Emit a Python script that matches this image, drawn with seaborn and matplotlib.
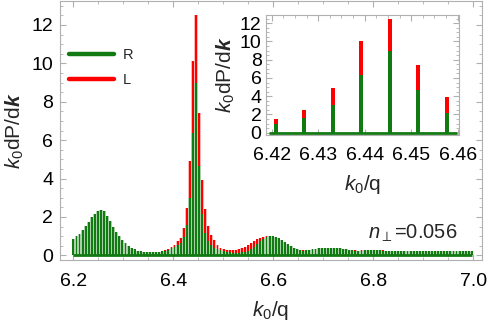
import numpy as np
import matplotlib
matplotlib.use('Agg')
import matplotlib.pyplot as plt
from matplotlib.lines import Line2D
from matplotlib.ticker import MultipleLocator, FormatStrFormatter
import seaborn as sns

# harmonic positions k0/q (evenly spaced grid) and spectra
k_start, k_step, n_bars = 6.2002, 0.00613, 131
k = np.round(k_start + k_step * np.arange(n_bars), 5)

R = [0.85, 0.99, 1.13, 1.30, 1.51, 1.73, 1.98, 2.17, 2.31, 2.38,
     2.30, 2.06, 1.80, 1.48, 1.20, 0.99, 0.78, 0.63, 0.49, 0.38,
     0.31, 0.25, 0.21, 0.19, 0.17, 0.16, 0.16, 0.17, 0.19, 0.22,
     0.25, 0.30, 0.36, 0.45, 0.55, 0.65, 0.95, 1.60, 3.00, 6.35,
     9.00, 4.65, 2.15, 1.15, 0.75, 0.52, 0.40, 0.32, 0.26, 0.22,
     0.19, 0.17, 0.15, 0.14, 0.15, 0.16, 0.20, 0.24, 0.33, 0.45,
     0.59, 0.76, 0.87, 0.96, 1.00, 1.00, 0.97, 0.90, 0.80, 0.70,
     0.59, 0.49, 0.39, 0.32, 0.27, 0.25, 0.26, 0.28, 0.31, 0.34,
     0.36, 0.38, 0.40, 0.40, 0.40, 0.39, 0.38, 0.36, 0.33, 0.31,
     0.28, 0.26, 0.25, 0.24, 0.25, 0.26, 0.27, 0.27, 0.27, 0.26,
     0.26, 0.25, 0.25, 0.24, 0.24, 0.23, 0.23, 0.23, 0.23, 0.23,
     0.24, 0.24, 0.24, 0.24, 0.23, 0.23, 0.22, 0.22, 0.22, 0.22,
     0.22, 0.22, 0.23, 0.23, 0.23, 0.22, 0.22, 0.22, 0.22, 0.22,
     0.22]
L = [0.85, 0.99, 1.13, 1.30, 1.51, 1.73, 1.98, 2.17, 2.31, 2.38,
     2.30, 2.06, 1.80, 1.48, 1.20, 0.99, 0.78, 0.63, 0.49, 0.38,
     0.31, 0.25, 0.21, 0.19, 0.17, 0.16, 0.16, 0.17, 0.20, 0.23,
     0.27, 0.33, 0.42, 0.55, 0.75, 0.88, 1.45, 2.45, 4.90, 10.10,
     12.50, 7.40, 3.95, 2.40, 1.52, 1.05, 0.80, 0.52, 0.40, 0.34,
     0.30, 0.28, 0.28, 0.30, 0.33, 0.38, 0.45, 0.53, 0.62, 0.73,
     0.83, 0.90, 0.96, 1.00, 1.01, 1.00, 0.97, 0.91, 0.81, 0.71,
     0.61, 0.51, 0.41, 0.33, 0.28, 0.26, 0.26, 0.28, 0.31, 0.34,
     0.36, 0.38, 0.40, 0.40, 0.40, 0.39, 0.38, 0.36, 0.33, 0.31,
     0.28, 0.27, 0.26, 0.25, 0.26, 0.27, 0.28, 0.28, 0.27, 0.27,
     0.26, 0.26, 0.25, 0.25, 0.24, 0.24, 0.24, 0.23, 0.23, 0.24,
     0.24, 0.25, 0.25, 0.24, 0.24, 0.23, 0.23, 0.22, 0.22, 0.22,
     0.22, 0.23, 0.23, 0.23, 0.24, 0.23, 0.23, 0.22, 0.22, 0.22,
     0.22]

inset_lo, inset_hi = 36, 43   # bars shown in the zoomed inset

green = '#127a12'
red = '#ff0000'
light_green = '#a9d0a9'
light_red = '#ffb4b4'
frame = '#b0b0b0'

sns.set_style('ticks')
plt.rcParams['font.family'] = ['Liberation Sans', 'DejaVu Sans']
plt.rcParams['mathtext.fontset'] = 'custom'
plt.rcParams['mathtext.rm'] = 'Liberation Sans'
plt.rcParams['mathtext.it'] = 'Liberation Sans:italic'
plt.rcParams['mathtext.bf'] = 'Liberation Sans:bold'
plt.rcParams['mathtext.bfit'] = 'Liberation Sans:bold:italic'

fig = plt.figure(figsize=(4.88, 3.21), dpi=100)
ax = fig.add_axes([60/488, 1-260/321, 422/488, 259/321])


def style_axes(a, fs):
    for s in a.spines.values():
        s.set_color(frame)
        s.set_linewidth(0.8)
    a.tick_params(which='both', direction='in', top=True, right=True,
                  color=frame, labelsize=fs, labelcolor='black')
    a.tick_params(which='major', length=4, width=0.8)
    a.tick_params(which='minor', length=2, width=0.6)


def spectrum(a, x, yl, yr, w, fill=True):
    kw = dict(native_scale=True, saturation=1, errorbar=None, linewidth=0, ax=a)
    if fill:
        sns.barplot(x=x, y=yl, color=light_red, width=1.0, **kw)
        sns.barplot(x=x, y=yr, color=light_green, width=1.0, **kw)
    sns.barplot(x=x, y=yl, color=red, width=w, **kw)
    sns.barplot(x=x, y=yr, color=green, width=w, **kw)


ylab = r'$k_0$dP/d$\mathbfit{k}$'
xlab = r'$k_0$/q'

spectrum(ax, k, L, R, 0.62)
ax.plot([k[0], k[-1]], [0, 0], color=green, lw=2, solid_capstyle='butt')
ax.set_xlim(6.1734, 7.0174)
ax.set_ylim(-0.24, 13.25)
ax.xaxis.set_major_locator(MultipleLocator(0.2))
ax.xaxis.set_minor_locator(MultipleLocator(0.05))
ax.yaxis.set_major_locator(MultipleLocator(2))
ax.yaxis.set_minor_locator(MultipleLocator(0.5))
ax.xaxis.set_major_formatter(FormatStrFormatter('%.1f'))
style_axes(ax, 14)
ax.tick_params(axis='x', pad=9)
ax.tick_params(axis='y', pad=5)
ax.set_xlabel(xlab, fontsize=15, labelpad=7)
ax.set_ylabel(ylab, fontsize=15, labelpad=4)
ax.text(6.79, 1.17, r'$n_{\perp}$=0.056', fontsize=14.5, va='center', ha='left')

handles = [Line2D([], [], color=green, lw=3.2), Line2D([], [], color=red, lw=3.2)]
ax.legend(handles, ['R', 'L'], loc='upper left', bbox_to_anchor=(0.021, 0.82),
          frameon=False, fontsize=10.5, handlelength=3.1, handletextpad=0.6,
          labelspacing=0.8, borderpad=0, borderaxespad=0)

# inset: zoom on the main peak
axin = fig.add_axes([265.7/488, 1-135/321, 193.3/488, 120/321])
spectrum(axin, k[inset_lo:inset_hi], L[inset_lo:inset_hi], R[inset_lo:inset_hi],
         0.14, fill=False)
axin.plot([6.4195, 6.4598], [0, 0], color=green, lw=2, solid_capstyle='butt')
axin.set_xlim(6.4187, 6.4603)
axin.set_ylim(-0.25, 12.9)
axin.xaxis.set_major_locator(MultipleLocator(0.01))
axin.xaxis.set_minor_locator(MultipleLocator(0.0025))
axin.yaxis.set_major_locator(MultipleLocator(2))
axin.yaxis.set_minor_locator(MultipleLocator(0.5))
axin.xaxis.set_major_formatter(FormatStrFormatter('%.2f'))
style_axes(axin, 14)
axin.tick_params(axis='x', pad=9)
axin.tick_params(axis='y', pad=3)
axin.set_xlabel(xlab, fontsize=15, labelpad=6)
axin.set_ylabel(ylab, fontsize=15, labelpad=2)

fig.savefig('out.png', dpi=100)
